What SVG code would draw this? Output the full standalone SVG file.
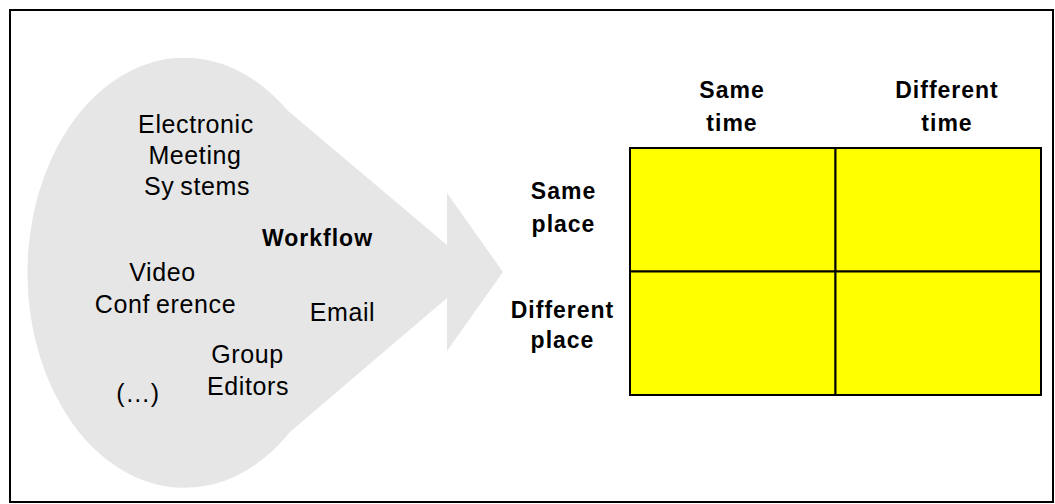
<svg xmlns="http://www.w3.org/2000/svg" width="1055" height="504" viewBox="0 0 1055 504">
  <style>
    .reg { font-family: "Liberation Sans", Arial, sans-serif; font-size: 25px; fill: #000; text-anchor: middle; letter-spacing: 0.6px; }
    .bold { font-family: "Liberation Sans", Arial, sans-serif; font-size: 23px; font-weight: bold; fill: #000; text-anchor: middle; letter-spacing: 1px; }
    .cell { fill: #ffff00; stroke: #000; stroke-width: 2; }
  </style>

  <!-- frame -->
  <rect x="10" y="10" width="1043" height="492" fill="#fff" stroke="#000" stroke-width="2"/>

  <!-- teardrop arrow of groupware tools -->
  <g id="tools">
    <path d="M 287,110 L 447,245 L 447,193 L 503,272 L 447,351 L 447,298 L 290,432 A 157 215 0 1 1 287,110 Z" fill="#e6e6e6"/>
    <text class="reg" x="196" y="133">Electronic</text>
    <text class="reg" x="195" y="164">Meeting</text>
    <text class="reg" x="197" y="195" dx="0 0 6">Systems</text>
    <text class="bold" x="317.5" y="246">Workflow</text>
    <text class="reg" x="162.5" y="281">Video</text>
    <text class="reg" x="165.5" y="312.5" dx="0 0 0 0 6">Conference</text>
    <text class="reg" x="342.5" y="321">Email</text>
    <text class="reg" x="247.5" y="363">Group</text>
    <text class="reg" x="248" y="395">Editors</text>
    <text class="reg" x="138" y="402">(…)</text>
  </g>

  <!-- time / place matrix -->
  <g id="matrix">
    <rect class="cell" x="630" y="148" width="205.5" height="123.5"/>
    <rect class="cell" x="835.5" y="148" width="205.5" height="123.5"/>
    <rect class="cell" x="630" y="271.5" width="205.5" height="123.5"/>
    <rect class="cell" x="835.5" y="271.5" width="205.5" height="123.5"/>
  </g>

  <g id="col-labels">
    <text class="bold" x="732" y="98">Same</text>
    <text class="bold" x="732" y="131">time</text>
    <text class="bold" x="947" y="98">Different</text>
    <text class="bold" x="947" y="131">time</text>
  </g>

  <g id="row-labels">
    <text class="bold" x="563.5" y="199">Same</text>
    <text class="bold" x="563.5" y="232">place</text>
    <text class="bold" x="562.5" y="318">Different</text>
    <text class="bold" x="562.5" y="348">place</text>
  </g>
</svg>
